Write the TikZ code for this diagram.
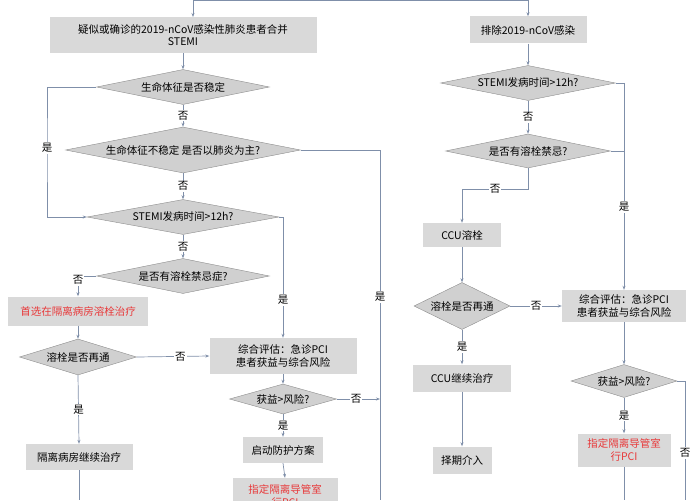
\documentclass[tikz,border=0pt]{standalone}
\usepackage{fontspec}
\setmainfont{Noto Sans CJK SC}
\usetikzlibrary{shapes.geometric,arrows.meta}
\definecolor{boxg}{HTML}{D9D9D9}
\definecolor{diag}{HTML}{D0D0D0}
\definecolor{lnc}{HTML}{7F8FA9}
\definecolor{redt}{HTML}{E8393A}
\begin{document}
\begin{tikzpicture}[x=1pt,y=-1pt,
  font=\fontsize{10.5}{12.5}\selectfont,
  box/.style={fill=boxg,inner sep=0pt,align=center,minimum width=#1},
  dia/.style n args={3}{diamond,draw=gray!90,fill=diag,inner sep=0pt,minimum width=#1,minimum height=#2,shape aspect=#3},
  ln/.style={draw=lnc,line width=0.7pt},
  ar/.style={ln,-{Stealth[length=4pt,width=3pt]}},
  lb/.style={fill=white,inner sep=1pt},
  red/.style={text=redt}]
\useasboundingbox (0,0) rectangle (700,500);
% left column
\node[box=267pt,minimum height=36pt] (b1) at (183,35) {疑似或确诊的2019-nCoV感染性肺炎患者合并\\STEMI};
\node[dia={173pt}{35pt}{4.9}] (d1) at (183,87) {生命体征是否稳定};
\node[dia={235pt}{46pt}{5}] (d2) at (183,150) {生命体征不稳定 是否以肺炎为主?};
\node[dia={192pt}{35pt}{5}] (d3) at (183,217) {STEMI发病时间>12h?};
\node[dia={173pt}{35pt}{4.9}] (d4) at (183,276) {是否有溶栓禁忌症?};
\node[box=140pt,minimum height=29pt,red] (r1) at (78,311) {首选在隔离病房溶栓治疗};
\node[dia={117pt}{36pt}{2.5}] (d5) at (78,357) {溶栓是否再通};
\node[box=107pt,minimum height=26pt] (b2) at (79,457) {隔离病房继续治疗};
\node[box=147pt,minimum height=36pt] (c1) at (283,356) {综合评估：急诊PCI\\患者获益与综合风险};
\node[dia={107pt}{30pt}{3}] (d6) at (283,399) {获益>风险?};
\node[box=80pt,minimum height=26pt] (b3) at (283,450) {启动防护方案};
\node[box=105pt,minimum height=36pt,red] (r2) at (285,496) {指定隔离导管室\\行PCI};
% right column
\node[box=117pt,minimum height=27pt] (b4) at (528,30) {排除2019-nCoV感染};
\node[dia={175pt}{35pt}{5}] (e1) at (528,83) {STEMI发病时间>12h?};
\node[dia={165pt}{34pt}{4.9}] (e2) at (528,151) {是否有溶栓禁忌?};
\node[box=78pt,minimum height=24pt] (b5) at (462,235) {CCU溶栓};
\node[dia={96pt}{47pt}{2}] (e3) at (462,306) {溶栓是否再通};
\node[box=124pt,minimum height=32pt] (c2) at (624,306) {综合评估：急诊PCI\\患者获益与综合风险};
\node[dia={106pt}{33pt}{3.2}] (e4) at (624,381) {获益>风险?};
\node[box=93pt,minimum height=33pt,red] (r3) at (624,450) {指定隔离导管室\\行PCI};
\node[box=98pt,minimum height=27pt] (b6) at (462,378) {CCU继续治疗};
\node[box=59pt,minimum height=27pt] (b7) at (462,460) {择期介入};
\coordinate (top) at (360,0);
\coordinate (bl1) at (79,500);
\coordinate (bl2) at (380,500);
\coordinate (bl3) at (624,500);
\coordinate (bl4) at (685,500);
% connectors left
\draw[ln] (193,0) -- (528,0);
\draw[ar] (193,0) -- (193,17);
\draw[ar] (528,0) -- (b4.north);
\draw[ar] (b1.south) -- (d1.north);
\draw[ar] (d1.south) -- node[lb]{否} (d2.north);
\draw[ar] (d2.south) -- node[lb]{否} (d3.north);
\draw[ar] (d1.west) -| (47,148) node[lb]{是} |- (d3.west);
\draw[ln] (d2.east) -| (bl2);
\node[lb] at (380,297) {是};
\draw[ar] (d3.east) -| (c1.north);
\node[lb] at (283,300) {是};
\draw[ar] (d3.south) -- node[lb]{否} (d4.north);
\draw[ar] (d4.west) -| (r1.north);
\node[lb] at (78,280) {否};
\draw[ar] (r1.south) -- (d5.north);
\draw[ar] (d5.east) -- node[lb,pos=0.6]{否} (c1.west);
\draw[ar] (d5.south) -- node[lb]{是} (b2.north);
\draw[ln] (b2.south) -- (bl1);
\draw[ar] (c1.south) -- (d6.north);
\draw[ar] (d6.east) -- node[lb,pos=0.45]{否} (380,399);
\draw[ar] (d6.south) -- node[lb]{是} (b3.north);
\draw[ar] (b3.south) -- (r2.north);
% connectors right
\draw[ar] (b4.south) -- (e1.north);
\draw[ar] (e1.south) -- node[lb]{否} (e2.north);
\draw[ln] (e1.east) -- (624,83);
\draw[ar] (624,83) -- node[lb,pos=0.6]{是} (c2.north);
\draw[ln] (e2.east) -- (624,151);
\draw[ar] (e2.south) |- (462,189) node[lb,pos=0.75]{否} -- (b5.north);
\draw[ar] (b5.south) -- (e3.north);
\draw[ar] (e3.east) -- node[lb]{否} (c2.west);
\draw[ar] (e3.south) -- node[lb]{是} (b6.north);
\draw[ar] (b6.south) -- (b7.north);
\draw[ar] (c2.south) -- (e4.north);
\draw[ar] (e4.south) -- node[lb]{是} (r3.north);
\draw[ln] (r3.south) -- (bl3);
\draw[ln] (e4.east) -| (bl4);
\node[lb] at (685,453) {否};
\end{tikzpicture}
\end{document}
